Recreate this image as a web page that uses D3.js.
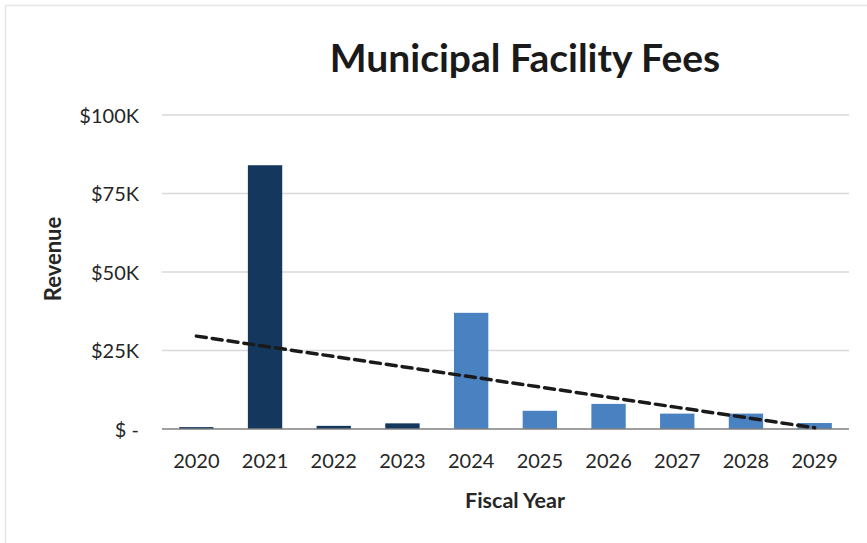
<!DOCTYPE html>
<html>
<head>
<meta charset="utf-8">
<script src="https://cdn.jsdelivr.net/npm/d3@7"></script>
<style>
  body { margin: 0; background: #fff; }
  svg { display: block; font-family: Lato, "Open Sans", sans-serif; }
</style>
</head>
<body>
<div id="chart"></div>
<script>
// fiscal years and revenue (in $K)
const years = ["2020", "2021", "2022", "2023", "2024", "2025", "2026", "2027", "2028", "2029"];
const revenue = [0.6, 84, 1, 1.8, 37, 5.8, 8, 4.9, 4.9, 1.9];
// first four are actuals, rest projected
const actualYears = ["2020", "2021", "2022", "2023"];
const yTicks = [0, 25, 50, 75, 100];
const yTickLabels = ["$ -", "$25K", "$50K", "$75K", "$100K"];

const width = 867, height = 543;
const margin = { left: 162, right: 18, top: 115, bottom: 114 };

const svg = d3.select("#chart").append("svg")
  .attr("width", width)
  .attr("height", height);

// light frame
svg.append("path")
  .attr("d", "M5.5,543 V5.5 H867")
  .attr("fill", "none")
  .attr("stroke", "#e6e6e6")
  .attr("stroke-width", 1.5);

const x = d3.scaleBand()
  .domain(years)
  .range([margin.left, width - margin.right])
  .paddingInner(0.5)
  .paddingOuter(0.25);

const y = d3.scaleLinear()
  .domain([0, 100])
  .range([height - margin.bottom, margin.top]);

// gridlines
svg.append("g")
  .selectAll("line")
  .data(yTicks.filter(d => d > 0))
  .enter()
  .append("line")
  .attr("x1", margin.left)
  .attr("x2", width - margin.right)
  .attr("y1", d => y(d))
  .attr("y2", d => y(d))
  .attr("stroke", "#d9d9d9")
  .attr("stroke-width", 1.5);

// y tick labels
svg.append("g")
  .selectAll("text")
  .data(yTicks)
  .enter()
  .append("text")
  .attr("x", 139)
  .attr("y", d => y(d))
  .attr("dy", "0.38em")
  .attr("text-anchor", "end")
  .attr("font-size", 20)
  .attr("fill", "#262626")
  .text((d, i) => yTickLabels[i]);

// bars
const data = years.map((yr, i) => ({ year: yr, value: revenue[i] }));
svg.append("g")
  .selectAll("rect")
  .data(data)
  .enter()
  .append("rect")
  .attr("x", d => x(d.year))
  .attr("y", d => y(d.value))
  .attr("width", x.bandwidth())
  .attr("height", d => y(0) - y(d.value))
  .attr("fill", d => actualYears.includes(d.year) ? "#14375e" : "#4a81c0");

// x axis line
svg.append("line")
  .attr("x1", margin.left)
  .attr("x2", width - margin.right)
  .attr("y1", y(0))
  .attr("y2", y(0))
  .attr("stroke", "#7f7f7f")
  .attr("stroke-width", 1.5);

// x tick labels
svg.append("g")
  .selectAll("text")
  .data(years)
  .enter()
  .append("text")
  .attr("x", d => x(d) + x.bandwidth() / 2)
  .attr("y", 468)
  .attr("text-anchor", "middle")
  .attr("font-size", 20)
  .attr("fill", "#262626")
  .text(d => d);

// linear trendline (least squares over the bars)
const mx = d3.mean(revenue, (d, i) => i);
const my = d3.mean(revenue);
const slope = d3.sum(revenue, (d, i) => (i - mx) * (d - my)) / d3.sum(revenue, (d, i) => (i - mx) * (i - mx));
const icpt = my - slope * mx;
const trend = years.map((yr, i) => ({ year: yr, value: icpt + slope * i }));

svg.append("path")
  .datum(trend)
  .attr("fill", "none")
  .attr("stroke", "#1a1a1a")
  .attr("stroke-width", 3.5)
  .attr("stroke-dasharray", "10,6")
  .attr("stroke-linecap", "round")
  .attr("d", d3.line()
    .x(d => x(d.year) + x.bandwidth() / 2)
    .y(d => y(d.value)));

// title
svg.append("text")
  .attr("x", 525)
  .attr("y", 72)
  .attr("text-anchor", "middle")
  .attr("font-size", 39)
  .attr("font-weight", "bold")
  .attr("fill", "#1a1a1a")
  .text("Municipal Facility Fees");

// axis titles
svg.append("text")
  .attr("x", 515)
  .attr("y", 508)
  .attr("text-anchor", "middle")
  .attr("font-size", 21.5)
  .attr("font-weight", "bold")
  .attr("fill", "#262626")
  .text("Fiscal Year");

svg.append("text")
  .attr("transform", "translate(61,259) rotate(-90)")
  .attr("text-anchor", "middle")
  .attr("font-size", 22)
  .attr("font-weight", "bold")
  .attr("fill", "#262626")
  .text("Revenue");
</script>
</body>
</html>
